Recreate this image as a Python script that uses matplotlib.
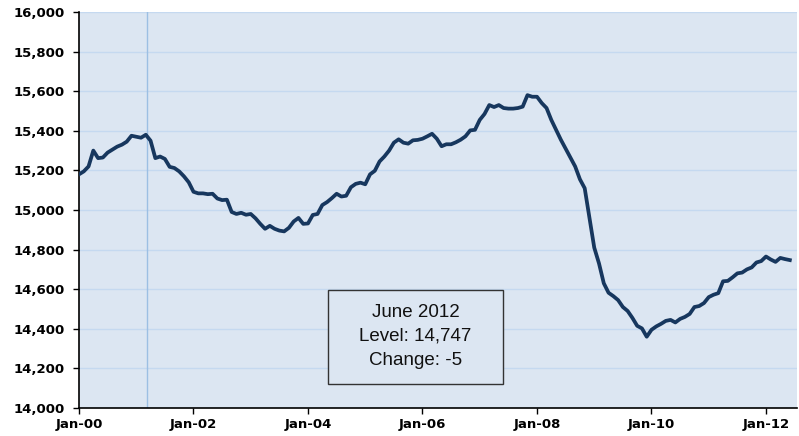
import numpy as np
import matplotlib
matplotlib.use('Agg')
from matplotlib import pyplot as plt
from matplotlib.patches import Rectangle

# monthly level, Jan 2000 - Jun 2012 (thousands)
y2000 = [15180, 15195, 15220, 15300, 15262, 15265, 15290, 15305, 15320, 15330, 15345, 15375]
y2001 = [15370, 15365, 15380, 15350, 15262, 15270, 15258, 15218, 15212, 15195, 15170, 15140]
y2002 = [15092, 15084, 15084, 15080, 15082, 15058, 15050, 15052, 14990, 14980, 14986, 14976]
y2003 = [14980, 14958, 14930, 14905, 14920, 14905, 14896, 14892, 14910, 14942, 14960, 14930]
y2004 = [14932, 14975, 14980, 15025, 15040, 15060, 15082, 15068, 15072, 15115, 15132, 15138]
y2005 = [15130, 15180, 15198, 15245, 15270, 15300, 15340, 15357, 15340, 15335, 15352, 15354]
y2006 = [15360, 15372, 15385, 15360, 15322, 15332, 15332, 15342, 15355, 15372, 15402, 15405]
y2007 = [15455, 15485, 15530, 15520, 15530, 15515, 15512, 15512, 15515, 15522, 15580, 15572]
y2008 = [15572, 15540, 15515, 15455, 15405, 15355, 15310, 15265, 15220, 15155, 15110, 14960]
y2009 = [14810, 14730, 14630, 14582, 14565, 14545, 14510, 14490, 14455, 14415, 14402, 14360]
y2010 = [14395, 14412, 14425, 14440, 14445, 14432, 14450, 14460, 14475, 14510, 14515, 14530]
y2011 = [14560, 14572, 14580, 14640, 14642, 14660, 14680, 14684, 14700, 14710, 14735, 14742]
y2012 = [14765, 14750, 14738, 14758, 14752, 14747]

level = np.array(y2000 + y2001 + y2002 + y2003 + y2004 + y2005 + y2006 +
                 y2007 + y2008 + y2009 + y2010 + y2011 + y2012)
months = np.arange(len(level))

xtick_pos = [0, 24, 48, 72, 96, 120, 144]
xtick_labels = ['Jan-00', 'Jan-02', 'Jan-04', 'Jan-06', 'Jan-08', 'Jan-10', 'Jan-12']
ytick_vals = list(range(14000, 16001, 200))
recession_start = 14.3  # Mar-01
box_lines = ['June 2012', 'Level: 14,747', 'Change: -5']

bg = '#dce6f2'

fig = plt.figure(figsize=(7.99, 4.36), dpi=100)
ax = fig.add_axes([79/799, 1 - 408/436, 718/799, 396/436])
ax.set_facecolor(bg)

ax.plot(months, level, color='#17375e', lw=2.7, solid_joinstyle='round', zorder=3)
ax.axvline(recession_start, color='#9cbfe3', lw=1, zorder=2)

ax.set_xlim(0, 150.5)
ax.set_ylim(14000, 16000)
ax.set_yticks(ytick_vals)
ax.set_yticklabels([f'{v:,}' for v in ytick_vals])
ax.set_xticks(xtick_pos)
ax.set_xticklabels(xtick_labels)
ax.grid(axis='y', color='#c5d9f0', lw=1, zorder=1)
ax.set_axisbelow(True)

for s in ['top', 'right']:
    ax.spines[s].set_visible(False)
for s in ['left', 'bottom']:
    ax.spines[s].set_color('black')
    ax.spines[s].set_linewidth(1.2)

ax.tick_params(axis='y', direction='out', length=4.5, width=1, pad=6, labelsize=9.5)
ax.tick_params(axis='x', direction='out', length=4.5, width=1, pad=3, labelsize=9.5)
for lab in ax.get_xticklabels() + ax.get_yticklabels():
    lab.set_fontweight('bold')

# info box
fig.patches.append(Rectangle((328/799, 1 - 384/436), 175/799, 94/436,
                             transform=fig.transFigure, facecolor=bg,
                             edgecolor='#333333', lw=1, zorder=5))
for i, t in enumerate(box_lines):
    fig.text(415.5/799, 1 - (312 + 24*i)/436, t, ha='center', va='center',
             fontsize=13.5, family='Liberation Sans', color='#111111', zorder=6)

plt.savefig('out.png', dpi=100)
